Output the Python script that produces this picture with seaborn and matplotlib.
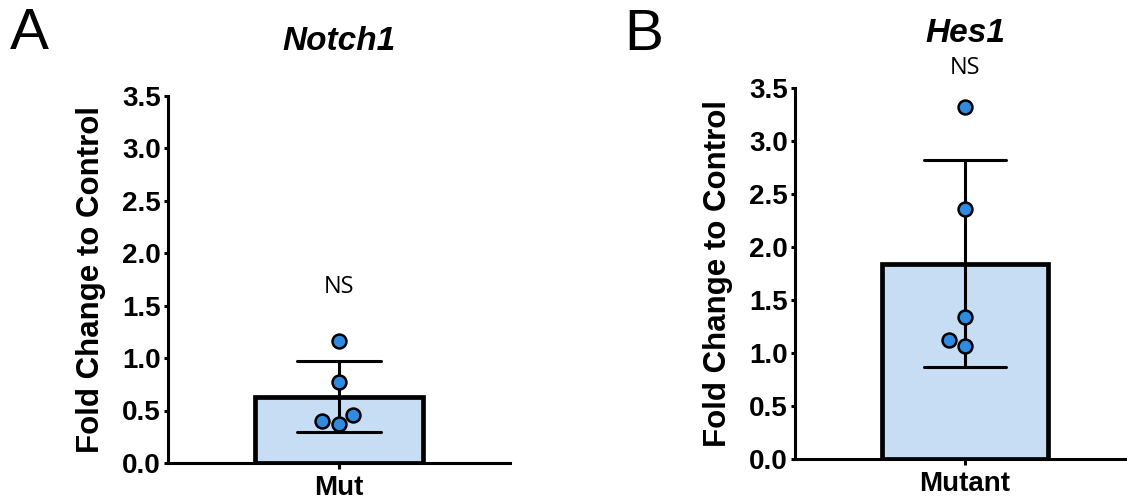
"""
Notch1 / Hes1 — fold change to control, barras com média ± DP e pontos individuais.
"""

import matplotlib
matplotlib.use("Agg")
import matplotlib.pyplot as plt
import seaborn as sns

# Dados
notch1_grupo = ["Mut"]
notch1_valores = [1.16, 0.77, 0.46, 0.37, 0.40]

hes1_grupo = ["Mutant"]
hes1_valores = [3.32, 2.36, 1.34, 1.07, 1.12]

titulos = ["Notch1", "Hes1"]
paineis = ["A", "B"]
anotacao = "NS"
y_ticks = [0.0, 0.5, 1.0, 1.5, 2.0, 2.5, 3.0, 3.5]

COR_BARRA = "#c6ddf4"
COR_PONTO = "#2f8ae0"

sns.set_style("ticks")
plt.rcParams.update({
    "font.family": ["Liberation Sans", "DejaVu Sans"],
    "text.color": "black",
    "axes.labelcolor": "black",
    "axes.edgecolor": "black",
    "xtick.color": "black",
    "ytick.color": "black",
    "axes.linewidth": 2.2,
    "xtick.major.width": 2.2,
    "ytick.major.width": 2.2,
    "xtick.major.size": 4.5,
    "ytick.major.size": 3,
})

fig = plt.figure(figsize=(11.27, 5.0), dpi=100)
ax_a = fig.add_axes([0.149, 0.074, 0.3035, 0.735])
ax_b = fig.add_axes([0.7054, 0.082, 0.3017, 0.742])


def painel(ax, grupo, valores, titulo, ns_y):
    cats = grupo * len(valores)
    sns.barplot(
        x=cats, y=valores, ax=ax, errorbar="sd", capsize=0.243,
        color=COR_BARRA, edgecolor="black", linewidth=3.4, width=0.49,
        saturation=1,
        err_kws={"color": "black", "linewidth": 2.2},
    )
    sns.swarmplot(
        x=cats, y=valores, ax=ax, color=COR_PONTO, size=10,
        edgecolor="black", linewidth=1.8, zorder=3, clip_on=False,
    )
    ax.set_ylim(0, 3.5)
    ax.set_xlim(-0.5, 0.5)
    ax.set_yticks(y_ticks)
    ax.set_yticklabels([f"{t:.1f}" for t in y_ticks], fontsize=20, fontweight="bold")
    ax.tick_params(axis="x", labelsize=20, pad=4)
    for lb in ax.get_xticklabels():
        lb.set_fontweight("bold")
    ax.tick_params(axis="y", pad=2)
    ax.set_ylabel("Fold Change to Control", fontsize=22.5, fontweight="bold", labelpad=12)
    ax.set_title(titulo, fontsize=24, fontweight="bold", fontstyle="italic", pad=33)
    ax.text(0, ns_y, anotacao, ha="center", va="center", fontsize=17,
            family="Open Sans", clip_on=False)
    sns.despine(ax=ax)


painel(ax_a, notch1_grupo, notch1_valores, titulos[0], 1.68)
painel(ax_b, hes1_grupo, hes1_valores, titulos[1], 3.69)

fig.text(29 / 1127, 1 - 34 / 500, paineis[0], fontsize=42, ha="center", va="center")
fig.text(644 / 1127, 1 - 35 / 500, paineis[1], fontsize=42, ha="center", va="center")

fig.savefig("out.png", dpi=100)
